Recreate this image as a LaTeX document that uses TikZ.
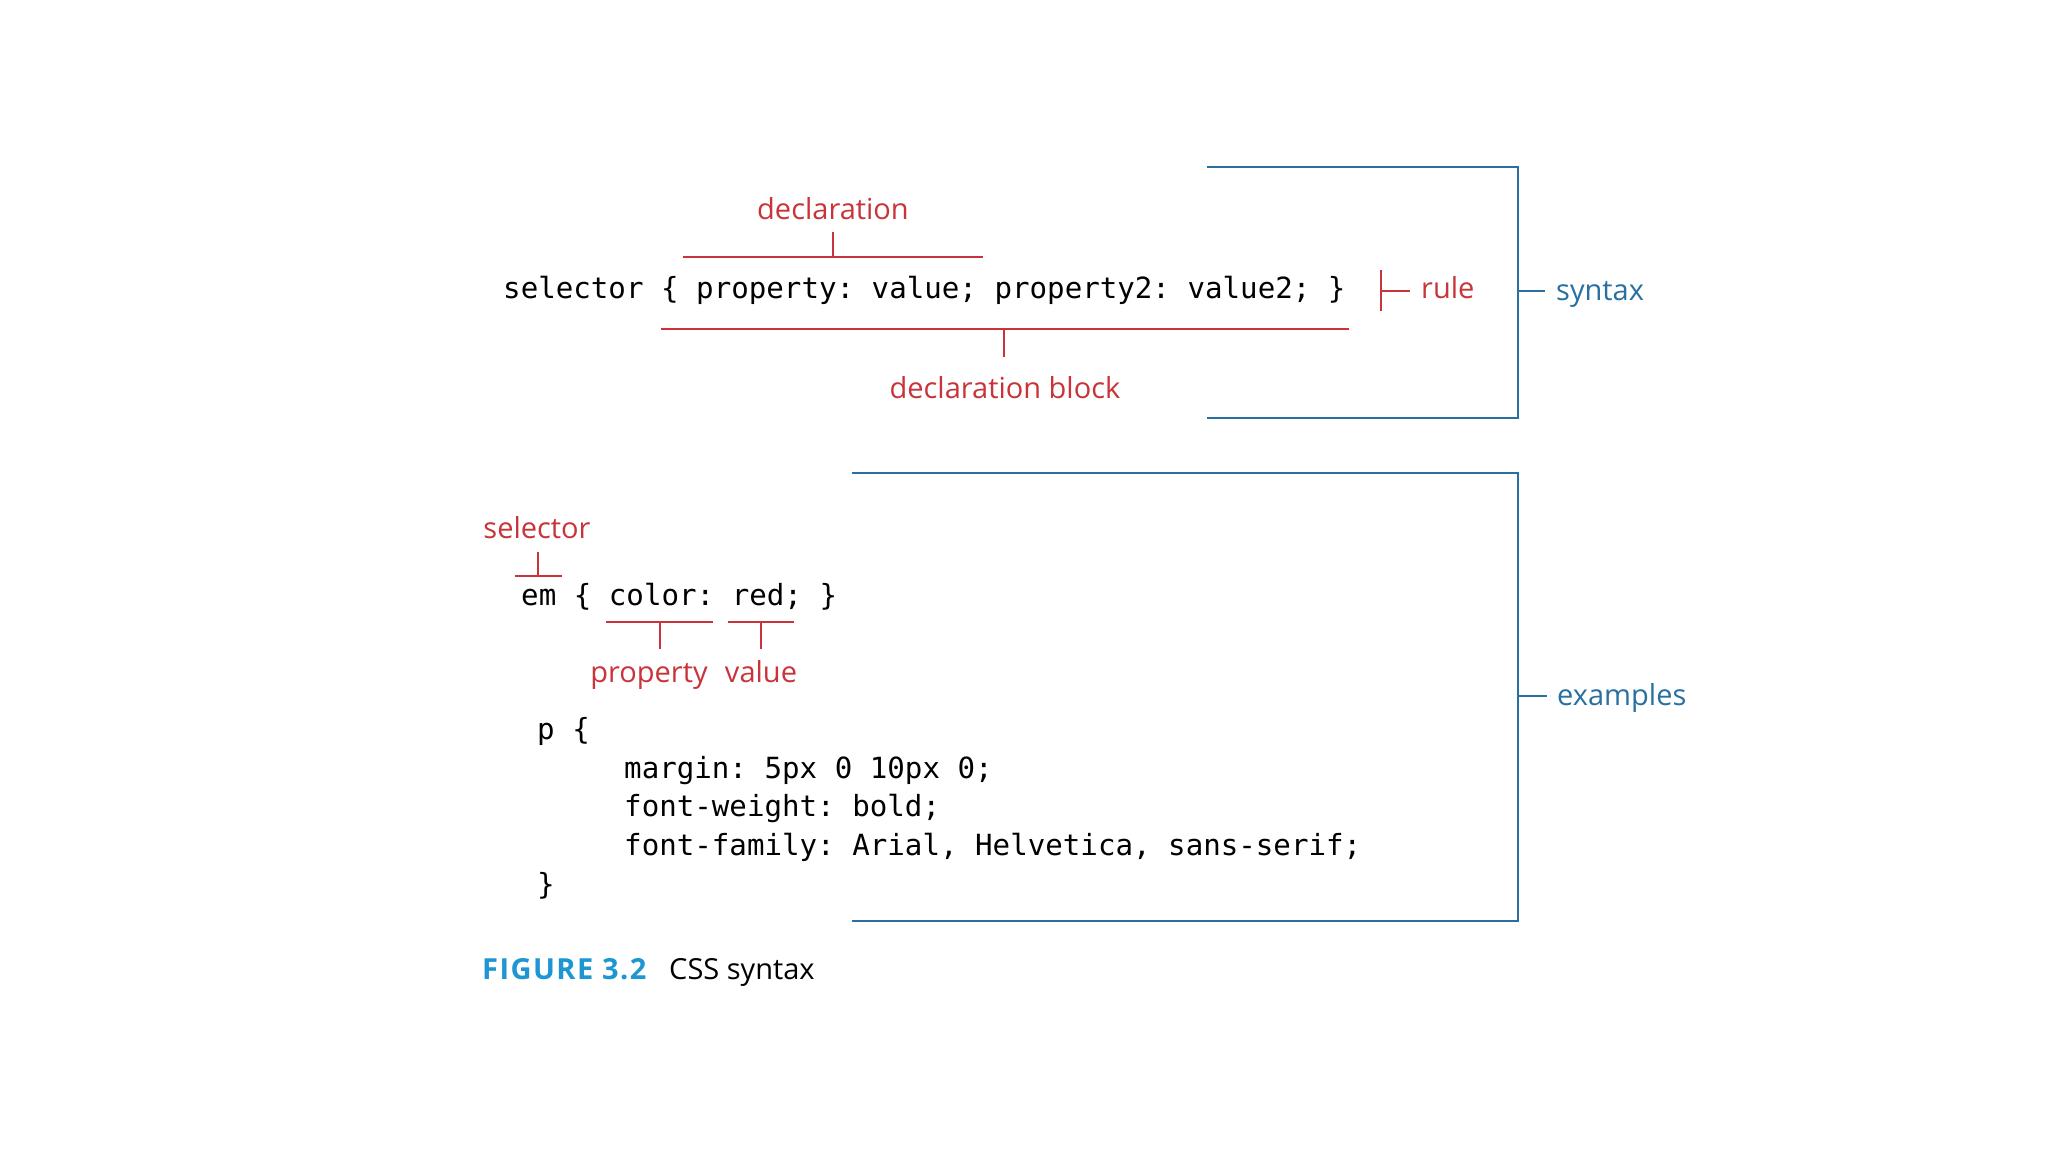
\documentclass[tikz,border=0pt]{standalone}
\usepackage{fontspec}
\setmainfont{Open Sans}
\newfontfamily\codefont{DejaVu Sans Mono}
\newfontfamily\figfont{Open Sans}[LetterSpace=5]
\definecolor{cssred}{RGB}{200,52,58}
\definecolor{cssblue}{RGB}{40,112,160}
\definecolor{figblue}{RGB}{30,150,210}
\frenchspacing
\begin{document}
\begin{tikzpicture}[x=1pt,y=-1pt,
  code/.style={inner sep=0pt, anchor=base west, font=\codefont\fontsize{29.15}{35}\selectfont\frenchspacing, text=black},
  redlabel/.style={inner sep=0pt, anchor=base, font=\fontsize{29}{35}\selectfont, text=cssred},
  bluelabel/.style={inner sep=0pt, anchor=base west, font=\fontsize{29}{35}\selectfont, text=cssblue},
  redline/.style={draw=cssred, line width=2.2pt},
  blueline/.style={draw=cssblue, line width=2.6pt}]
\useasboundingbox[fill=white] (0,0) rectangle (2048,1152);

% ---------- syntax ----------
\node[redlabel] (decl) at (833,219) {declaration};
\coordinate (declL) at (683,257);
\coordinate (declR) at (983,257);
\coordinate (declM) at (833,257);
\coordinate (declT) at (833,232);
\draw[redline] (declL) -- (declR);
\draw[redline] (declM) -- (declT);

\node[code] (line1) at (503,298) {selector \{ property: value; property2: value2; \}};

\coordinate (ruleTop) at (1381,270);
\coordinate (ruleBot) at (1381,311);
\coordinate (ruleMid) at (1381,291);
\coordinate (ruleTick) at (1410,291);
\draw[redline] (ruleTop) -- (ruleBot);
\draw[redline] (ruleMid) -- (ruleTick);
\node[redlabel, anchor=base west] (rule) at (1421,298) {rule};

\coordinate (blockL) at (661,329);
\coordinate (blockR) at (1349,329);
\coordinate (blockM) at (1004,329);
\coordinate (blockB) at (1004,357);
\draw[redline] (blockL) -- (blockR);
\draw[redline] (blockM) -- (blockB);
\node[redlabel] (block) at (1005,398) {declaration block};

\coordinate (synTL) at (1207,167);
\coordinate (synTR) at (1518,167);
\coordinate (synBR) at (1518,418);
\coordinate (synBL) at (1207,418);
\coordinate (synM) at (1518,291);
\coordinate (synT) at (1545,291);
\draw[blueline] (synTL) -- (synTR) -- (synBR) -- (synBL);
\draw[blueline] (synM) -- (synT);
\node[bluelabel] (syntax) at (1556,300) {syntax};

% ---------- examples ----------
\node[redlabel] (sel) at (537,538) {selector};
\coordinate (selL) at (515,576);
\coordinate (selR) at (562,576);
\coordinate (selM) at (538,576);
\coordinate (selT) at (538,552);
\draw[redline] (selL) -- (selR);
\draw[redline] (selM) -- (selT);

\node[code] (em) at (521,605) {em \{ color: red; \}};

\coordinate (propL) at (606,622);
\coordinate (propR) at (713,622);
\coordinate (propM) at (660,622);
\coordinate (propB) at (660,649);
\draw[redline] (propL) -- (propR);
\draw[redline] (propM) -- (propB);
\node[redlabel] (prop) at (649,682) {property};

\coordinate (valL) at (728,622);
\coordinate (valR) at (794,622);
\coordinate (valM) at (761,622);
\coordinate (valB) at (761,649);
\draw[redline] (valL) -- (valR);
\draw[redline] (valM) -- (valB);
\node[redlabel] (val) at (761,682) {value};

\node[code] (p1) at (537,739) {p \{};
\node[code] (p2) at (624,778) {margin: 5px 0 10px 0;};
\node[code] (p3) at (624,816) {font-weight: bold;};
\node[code] (p4) at (624,855) {font-family: Arial, Helvetica, sans-serif;};
\node[code] (p5) at (537,894) {\}};

\coordinate (exTL) at (852,473);
\coordinate (exTR) at (1518,473);
\coordinate (exBR) at (1518,921);
\coordinate (exBL) at (852,921);
\coordinate (exM) at (1518,696);
\coordinate (exT) at (1547,696);
\draw[blueline] (exTL) -- (exTR) -- (exBR) -- (exBL);
\draw[blueline] (exM) -- (exT);
\node[bluelabel] (examples) at (1557,705) {examples};

% ---------- caption ----------
\node[inner sep=0pt, anchor=base west, font=\figfont\fontsize{29}{35}\selectfont\bfseries, text=figblue] (fig) at (482,979) {FIGURE 3.2};
\node[inner sep=0pt, anchor=base west, font=\fontsize{29}{35}\selectfont, text=black] (cap) at (669,979) {CSS syntax};
\end{tikzpicture}
\end{document}
